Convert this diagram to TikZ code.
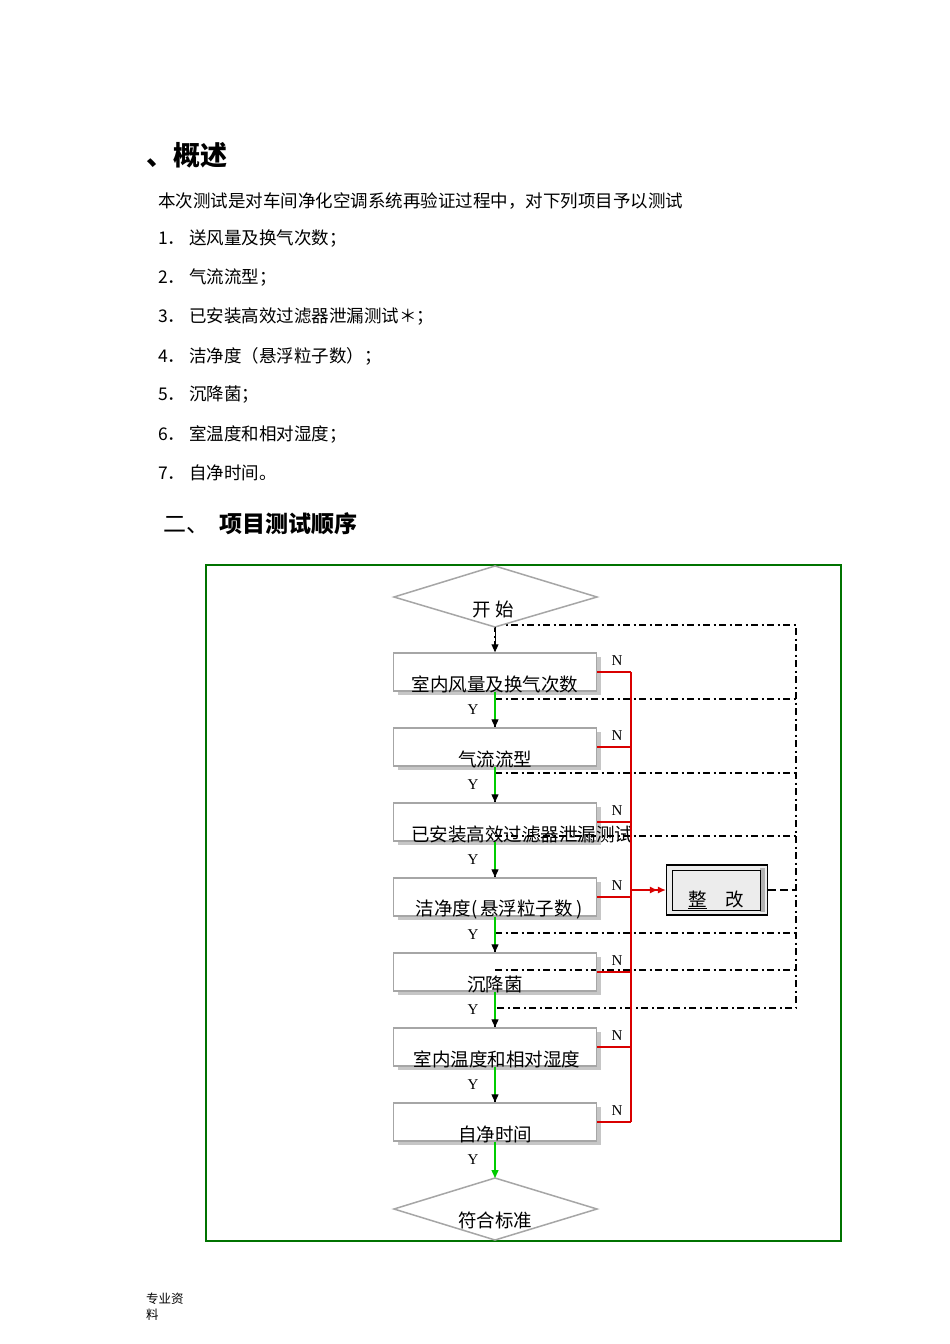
\documentclass[tikz,border=0pt]{standalone}
\usepackage{fontspec}
\setmainfont{Liberation Serif}
\newfontfamily\cjk{Noto Sans CJK SC}
\usetikzlibrary{arrows.meta}
\begin{document}
\begin{tikzpicture}[x=1pt,y=-1pt,
  txt/.style={anchor=west,inner sep=0,font=\cjk\fontsize{17.5}{17.5}\selectfont},
  box/.style={draw=gray!70,line width=1.5pt,fill=white,minimum width=203pt,minimum height=38pt,inner sep=0},
  shadow/.style={fill=gray!45,draw=none,minimum width=203pt,minimum height=38pt},
  lbl/.style={font=\cjk\fontsize{18.5}{18.5}\selectfont,inner sep=0},
  yn/.style={font=\fontsize{15}{15}\selectfont,inner sep=0},
  red/.style={draw=red!85!black,line width=1.3pt},
  dd/.style={draw=black,line width=1.2pt,dash pattern=on 7pt off 3.5pt on 2pt off 3.5pt},
  ok/.style={draw=green!80!black,line width=1.3pt,-{Triangle[black,length=8pt,width=7pt]}}]
\useasboundingbox (0,0) rectangle (950,1344);
\fill[white] (0,0) rectangle (950,1344);
% header text
\node[txt,font=\cjk\bfseries\fontsize{27}{27}\selectfont] (t0) at (146,155) {、概述};
\node[txt] (p0) at (158,201) {本次测试是对车间净化空调系统再验证过程中，对下列项目予以测试};
\node[txt] (p1) at (158,239) {1．\ 送风量及换气次数；};
\node[txt] (p2) at (158,278) {2．\ 气流流型；};
\node[txt] (p3) at (158,317) {3．\ 已安装高效过滤器泄漏测试＊；};
\node[txt] (p4) at (158,356) {4．\ 洁净度（悬浮粒子数）；};
\node[txt] (p5) at (158,395) {5．\ 沉降菌；};
\node[txt] (p6) at (158,434) {6．\ 室温度和相对湿度；};
\node[txt] (p7) at (158,473) {7．\ 自净时间。};
\node[txt,font=\cjk\bfseries\fontsize{23}{23}\selectfont] (t1) at (163,524) {\mdseries 二、\ \ \bfseries 项目测试顺序};
\node[anchor=north west,inner sep=0,align=left,font=\cjk\fontsize{12.5}{16}\selectfont] (ft) at (146,1293) {专业资\\料};
% frame
\draw[green!45!black,line width=1.5pt] (206,565) rectangle (841,1241);
% dash-dot return lines
\coordinate (r0) at (796,625);
\coordinate (r1) at (796,1008);
\draw[dd] (495,625) -- (r0) -- (r1) -- (495,1008);
\foreach \yy in {699,773,836,933,970} \draw[dd] (495,\yy) -- (796,\yy);
\draw[dd] (495,625) -- (495,1103);
% start
\draw[gray!70,line width=1.5pt,fill=white] (394,597) -- (495,566) -- (597,597) -- (495,627) -- cycle;
\node[lbl] (st) at (493,609) {开\ 始};
\coordinate (sb) at (495,627);
% boxes
\foreach \i/\yy in {1/672,2/747,3/822,4/897,5/972,6/1047,7/1122}{
  \node[shadow] at (499,\yy+4) {};
  \node[box] (b\i) at (495,\yy) {};
}
\draw[dd] (495,836) -- (596,836);
\draw[dd] (495,970) -- (596,970);
\node[lbl] at (495,684) {室内风量及换气次数};
\node[lbl] at (495,759) {气流流型};
\node[lbl,anchor=west] at (411,834) {已安装高效过滤器泄漏测试};
\node[lbl] at (499,909) {洁净度(\,悬浮粒子数\,)};
\node[lbl] at (495,984) {沉降菌};
\node[lbl] at (497,1059) {室内温度和相对湿度};
\node[lbl] at (495,1134) {自净时间};
% end diamond
\draw[gray!70,line width=1.5pt,fill=white] (394,1209) -- (495,1178) -- (597,1209) -- (495,1240) -- cycle;
\node[lbl] (en) at (495,1220) {符合标准};
\coordinate (et) at (495,1178);
% arrows
\draw[line width=1pt,-{Triangle[length=8pt,width=7pt]}] (sb) -- (b1.north);
\draw[ok] (b1.south) -- (b2.north);
\draw[ok] (b2.south) -- (b3.north);
\draw[ok] (b3.south) -- (b4.north);
\draw[ok] (b4.south) -- (b5.north);
\draw[ok] (b5.south) -- (b6.north);
\draw[ok] (b6.south) -- (b7.north);
\draw[draw=green!80!black,line width=1.3pt,-{Triangle[green!80!black,length=8pt,width=7pt]}] (b7.south) -- (et);
\foreach \yy in {710,785,860,935,1010,1085,1160} \node[yn] at (473,\yy) {Y};
% red N lines
\foreach \i/\yy in {1/672,2/747,3/822,4/897,5/972,6/1047,7/1122}{
  \draw[red] (b\i.east) -- (631,\yy);
  \node[yn] at (617,\yy-11) {N};
}
\draw[red] (631,672) -- (631,1122);
% rectify box
\node[draw=black,line width=1.2pt,fill=gray!15,minimum width=101pt,minimum height=50pt,inner sep=0] (zg) at (717,890) {};
\fill[gray!60] (760,868) -- (765,868) -- (765,912) -- (760,912) -- cycle;
\draw[black,line width=0.6pt] (672,870) rectangle (760,910);
\node[lbl] at (716,900) {\underline{整}\quad 改};
\draw[red,-{Latex[length=8pt,width=7pt]Latex[length=8pt,width=7pt]}] (631,890) -- (zg.west);
\draw[black,line width=1.4pt,dash pattern=on 8pt off 4pt] (zg.east) -- (796,890);
\end{tikzpicture}
\end{document}
